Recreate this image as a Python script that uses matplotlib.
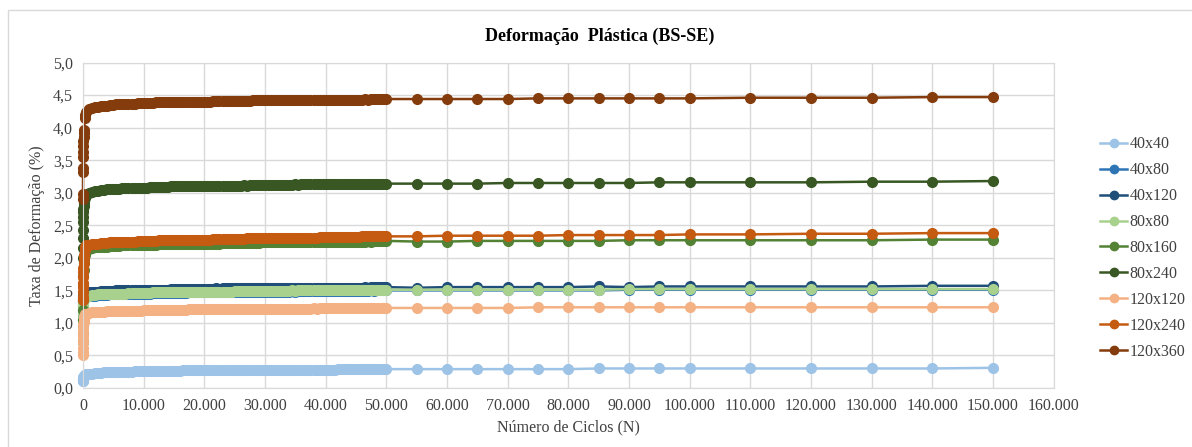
import matplotlib.pyplot as plt
import matplotlib.patches as mpatches
from matplotlib.ticker import FuncFormatter, MultipleLocator

# ciclos (N)
ciclos = [1, 2, 5, 10, 20, 30, 50, 75, 100, 150, 200, 300, 400,
          500, 1000, 1500, 2000, 2500, 3000, 3500, 4000, 4500, 5000,
          5500, 6000, 6500, 7000, 7500, 8000, 8500, 9000, 9500, 10000,
          10500, 11000, 11500, 12000, 12500, 13000, 13500, 14000, 14500, 15000,
          15500, 16000, 16500, 17000, 17500, 18000, 18500, 19000, 19500, 20000,
          20500, 21000, 21500, 22000, 22500, 23000, 23500, 24000, 24500, 25000,
          25500, 26000, 26500, 27000, 27500, 28000, 28500, 29000, 29500, 30000,
          30500, 31000, 31500, 32000, 32500, 33000, 33500, 34000, 34500, 35000,
          35500, 36000, 36500, 37000, 37500, 38000, 38500, 39000, 39500, 40000,
          40500, 41000, 41500, 42000, 42500, 43000, 43500, 44000, 44500, 45000,
          45500, 46000, 46500, 47000, 47500, 48000, 48500, 49000, 49500, 50000,
          55000, 60000, 65000, 70000, 75000, 80000, 85000, 90000, 95000, 100000,
          110000, 120000, 130000, 140000, 150000]

# taxa de deformacao (%) por ensaio
d_40x40 = [0.10, 0.11, 0.12, 0.13, 0.14, 0.15, 0.16, 0.17, 0.18, 0.19, 0.19, 0.20, 0.20,
           0.21, 0.22, 0.22, 0.23, 0.23, 0.23, 0.24, 0.24, 0.24, 0.24,
           0.25, 0.25, 0.25, 0.25, 0.25, 0.25, 0.26, 0.26, 0.26, 0.26,
           0.26, 0.26, 0.26, 0.26, 0.26, 0.26, 0.26, 0.26, 0.26, 0.26,
           0.26, 0.26, 0.27, 0.27, 0.27, 0.27, 0.27, 0.27, 0.27, 0.27,
           0.27, 0.27, 0.27, 0.27, 0.27, 0.27, 0.27, 0.27, 0.27, 0.27,
           0.27, 0.27, 0.27, 0.27, 0.27, 0.28, 0.28, 0.28, 0.28, 0.28,
           0.28, 0.28, 0.28, 0.28, 0.28, 0.28, 0.28, 0.28, 0.28, 0.28,
           0.28, 0.28, 0.28, 0.28, 0.28, 0.28, 0.28, 0.28, 0.28, 0.28,
           0.28, 0.28, 0.28, 0.29, 0.29, 0.29, 0.29, 0.29, 0.29, 0.29,
           0.29, 0.29, 0.29, 0.29, 0.29, 0.29, 0.29, 0.29, 0.29, 0.29,
           0.29, 0.29, 0.29, 0.29, 0.29, 0.29, 0.30, 0.30, 0.30, 0.30,
           0.30, 0.30, 0.30, 0.30, 0.31]
d_40x80 = [0.95, 1.04, 1.12, 1.19, 1.25, 1.29, 1.32, 1.35, 1.37, 1.38, 1.39, 1.40, 1.40,
           1.41, 1.41, 1.42, 1.42, 1.43, 1.43, 1.43, 1.43, 1.44, 1.44,
           1.44, 1.44, 1.44, 1.44, 1.45, 1.45, 1.45, 1.45, 1.45, 1.45,
           1.45, 1.45, 1.46, 1.46, 1.46, 1.46, 1.46, 1.46, 1.46, 1.46,
           1.46, 1.46, 1.46, 1.46, 1.47, 1.47, 1.47, 1.47, 1.47, 1.47,
           1.47, 1.47, 1.47, 1.47, 1.47, 1.47, 1.47, 1.47, 1.47, 1.48,
           1.48, 1.48, 1.48, 1.48, 1.48, 1.48, 1.48, 1.48, 1.48, 1.48,
           1.48, 1.48, 1.48, 1.48, 1.48, 1.48, 1.48, 1.48, 1.49, 1.48,
           1.49, 1.49, 1.49, 1.49, 1.49, 1.49, 1.49, 1.49, 1.49, 1.49,
           1.49, 1.49, 1.49, 1.49, 1.49, 1.49, 1.49, 1.49, 1.49, 1.49,
           1.49, 1.49, 1.49, 1.49, 1.50, 1.49, 1.50, 1.50, 1.50, 1.50,
           1.50, 1.50, 1.50, 1.50, 1.50, 1.50, 1.50, 1.51, 1.51, 1.51,
           1.51, 1.51, 1.51, 1.51, 1.51]
d_40x120 = [1.20, 1.26, 1.30, 1.34, 1.37, 1.39, 1.41, 1.42, 1.43, 1.44, 1.45, 1.46, 1.46,
            1.47, 1.47, 1.48, 1.48, 1.48, 1.49, 1.49, 1.49, 1.49, 1.49,
            1.50, 1.50, 1.50, 1.50, 1.50, 1.50, 1.50, 1.51, 1.51, 1.51,
            1.51, 1.51, 1.51, 1.51, 1.51, 1.51, 1.51, 1.51, 1.52, 1.52,
            1.52, 1.52, 1.52, 1.52, 1.52, 1.52, 1.52, 1.52, 1.52, 1.52,
            1.52, 1.52, 1.52, 1.53, 1.52, 1.53, 1.53, 1.53, 1.53, 1.53,
            1.53, 1.53, 1.53, 1.53, 1.53, 1.53, 1.53, 1.53, 1.53, 1.53,
            1.53, 1.53, 1.53, 1.53, 1.54, 1.53, 1.54, 1.54, 1.54, 1.54,
            1.54, 1.54, 1.54, 1.54, 1.54, 1.54, 1.54, 1.54, 1.54, 1.54,
            1.54, 1.54, 1.54, 1.54, 1.54, 1.54, 1.54, 1.54, 1.54, 1.54,
            1.54, 1.54, 1.55, 1.54, 1.55, 1.55, 1.55, 1.55, 1.55, 1.55,
            1.54, 1.55, 1.55, 1.55, 1.55, 1.55, 1.56, 1.55, 1.56, 1.56,
            1.56, 1.56, 1.56, 1.57, 1.57]
d_80x80 = [1.00, 1.08, 1.15, 1.22, 1.27, 1.31, 1.34, 1.36, 1.38, 1.39, 1.40, 1.41, 1.41,
           1.42, 1.42, 1.43, 1.43, 1.44, 1.44, 1.44, 1.44, 1.45, 1.45,
           1.45, 1.45, 1.45, 1.45, 1.46, 1.46, 1.46, 1.46, 1.46, 1.46,
           1.46, 1.46, 1.47, 1.47, 1.47, 1.47, 1.47, 1.47, 1.47, 1.47,
           1.47, 1.47, 1.47, 1.47, 1.48, 1.48, 1.48, 1.48, 1.48, 1.48,
           1.48, 1.48, 1.48, 1.48, 1.48, 1.48, 1.48, 1.48, 1.48, 1.49,
           1.49, 1.49, 1.49, 1.49, 1.49, 1.49, 1.49, 1.49, 1.49, 1.49,
           1.49, 1.49, 1.49, 1.49, 1.49, 1.49, 1.49, 1.49, 1.50, 1.49,
           1.50, 1.50, 1.50, 1.50, 1.50, 1.50, 1.50, 1.50, 1.50, 1.50,
           1.50, 1.50, 1.50, 1.50, 1.50, 1.50, 1.50, 1.50, 1.50, 1.50,
           1.50, 1.50, 1.50, 1.50, 1.51, 1.50, 1.51, 1.51, 1.51, 1.51,
           1.51, 1.51, 1.51, 1.51, 1.51, 1.51, 1.51, 1.52, 1.52, 1.52,
           1.52, 1.52, 1.52, 1.52, 1.52]
d_80x160 = [0.70, 0.85, 1.05, 1.20, 1.35, 1.48, 1.60, 1.72, 1.82, 1.92, 1.98, 2.05, 2.10,
            2.12, 2.14, 2.15, 2.16, 2.16, 2.17, 2.17, 2.17, 2.18, 2.18,
            2.18, 2.18, 2.19, 2.19, 2.19, 2.19, 2.19, 2.20, 2.20, 2.20,
            2.20, 2.20, 2.20, 2.20, 2.21, 2.21, 2.21, 2.21, 2.21, 2.21,
            2.21, 2.21, 2.21, 2.22, 2.22, 2.22, 2.22, 2.22, 2.22, 2.22,
            2.22, 2.22, 2.22, 2.22, 2.22, 2.23, 2.23, 2.23, 2.23, 2.23,
            2.23, 2.23, 2.23, 2.23, 2.23, 2.23, 2.23, 2.23, 2.24, 2.24,
            2.24, 2.24, 2.24, 2.24, 2.24, 2.24, 2.24, 2.24, 2.24, 2.24,
            2.24, 2.24, 2.24, 2.25, 2.24, 2.25, 2.25, 2.25, 2.25, 2.25,
            2.25, 2.25, 2.25, 2.25, 2.25, 2.25, 2.25, 2.25, 2.25, 2.25,
            2.25, 2.25, 2.25, 2.26, 2.25, 2.26, 2.26, 2.26, 2.26, 2.26,
            2.25, 2.25, 2.26, 2.26, 2.26, 2.26, 2.26, 2.27, 2.27, 2.27,
            2.27, 2.27, 2.27, 2.28, 2.28]
d_80x240 = [2.00, 2.15, 2.30, 2.42, 2.55, 2.62, 2.70, 2.75, 2.80, 2.85, 2.88, 2.92, 2.95,
            2.97, 2.99, 3.01, 3.02, 3.03, 3.04, 3.04, 3.05, 3.05, 3.06,
            3.06, 3.06, 3.07, 3.07, 3.07, 3.07, 3.08, 3.08, 3.08, 3.08,
            3.08, 3.09, 3.09, 3.09, 3.09, 3.09, 3.09, 3.09, 3.10, 3.10,
            3.10, 3.10, 3.10, 3.10, 3.10, 3.10, 3.10, 3.10, 3.10, 3.11,
            3.11, 3.11, 3.11, 3.11, 3.11, 3.11, 3.11, 3.11, 3.11, 3.11,
            3.11, 3.11, 3.12, 3.11, 3.12, 3.12, 3.12, 3.12, 3.12, 3.12,
            3.12, 3.12, 3.12, 3.12, 3.12, 3.12, 3.12, 3.12, 3.12, 3.13,
            3.12, 3.13, 3.13, 3.13, 3.13, 3.13, 3.13, 3.13, 3.13, 3.13,
            3.13, 3.13, 3.13, 3.13, 3.13, 3.13, 3.14, 3.13, 3.14, 3.14,
            3.14, 3.14, 3.14, 3.14, 3.14, 3.14, 3.14, 3.14, 3.14, 3.14,
            3.14, 3.14, 3.14, 3.15, 3.15, 3.15, 3.15, 3.15, 3.16, 3.16,
            3.16, 3.16, 3.17, 3.17, 3.18]
d_120x120 = [0.50, 0.55, 0.62, 0.70, 0.78, 0.85, 0.92, 0.98, 1.02, 1.06, 1.09, 1.11, 1.13,
             1.14, 1.15, 1.16, 1.16, 1.17, 1.17, 1.17, 1.18, 1.18, 1.18,
             1.18, 1.18, 1.19, 1.19, 1.19, 1.19, 1.19, 1.19, 1.19, 1.20,
             1.20, 1.20, 1.20, 1.20, 1.20, 1.20, 1.20, 1.20, 1.20, 1.20,
             1.20, 1.20, 1.20, 1.20, 1.21, 1.21, 1.21, 1.21, 1.21, 1.21,
             1.21, 1.21, 1.21, 1.21, 1.21, 1.21, 1.21, 1.21, 1.21, 1.21,
             1.21, 1.21, 1.22, 1.22, 1.22, 1.22, 1.22, 1.22, 1.22, 1.22,
             1.22, 1.22, 1.22, 1.22, 1.22, 1.22, 1.22, 1.22, 1.22, 1.22,
             1.22, 1.22, 1.22, 1.22, 1.22, 1.23, 1.22, 1.23, 1.23, 1.23,
             1.23, 1.23, 1.23, 1.23, 1.23, 1.23, 1.23, 1.23, 1.23, 1.23,
             1.23, 1.23, 1.23, 1.23, 1.23, 1.23, 1.23, 1.23, 1.23, 1.23,
             1.23, 1.23, 1.23, 1.23, 1.24, 1.24, 1.24, 1.24, 1.24, 1.24,
             1.24, 1.24, 1.24, 1.24, 1.24]
d_120x240 = [1.35, 1.40, 1.48, 1.55, 1.62, 1.70, 1.78, 1.85, 1.92, 2.00, 2.05, 2.12, 2.16,
             2.19, 2.20, 2.21, 2.22, 2.22, 2.23, 2.23, 2.23, 2.24, 2.24,
             2.24, 2.24, 2.25, 2.25, 2.25, 2.25, 2.25, 2.26, 2.26, 2.26,
             2.26, 2.26, 2.26, 2.26, 2.27, 2.27, 2.27, 2.27, 2.27, 2.27,
             2.27, 2.27, 2.28, 2.28, 2.28, 2.28, 2.28, 2.28, 2.28, 2.28,
             2.28, 2.28, 2.29, 2.29, 2.29, 2.29, 2.29, 2.29, 2.29, 2.29,
             2.29, 2.29, 2.29, 2.30, 2.30, 2.30, 2.30, 2.30, 2.30, 2.30,
             2.30, 2.30, 2.30, 2.30, 2.30, 2.31, 2.31, 2.31, 2.31, 2.31,
             2.31, 2.31, 2.31, 2.31, 2.31, 2.31, 2.31, 2.32, 2.32, 2.32,
             2.32, 2.32, 2.32, 2.32, 2.32, 2.32, 2.32, 2.32, 2.32, 2.32,
             2.32, 2.33, 2.33, 2.33, 2.33, 2.33, 2.33, 2.33, 2.33, 2.33,
             2.33, 2.34, 2.34, 2.34, 2.34, 2.35, 2.35, 2.35, 2.35, 2.36,
             2.36, 2.37, 2.37, 2.38, 2.38]
d_120x360 = [2.90, 2.98, 3.32, 3.38, 3.55, 3.62, 3.72, 3.80, 3.86, 3.92, 3.96, 4.15, 4.20,
             4.24, 4.28, 4.30, 4.31, 4.32, 4.33, 4.34, 4.34, 4.35, 4.35,
             4.36, 4.36, 4.36, 4.37, 4.37, 4.37, 4.37, 4.38, 4.38, 4.38,
             4.38, 4.38, 4.38, 4.39, 4.39, 4.39, 4.39, 4.39, 4.39, 4.39,
             4.39, 4.40, 4.40, 4.40, 4.40, 4.40, 4.40, 4.40, 4.40, 4.40,
             4.40, 4.40, 4.41, 4.41, 4.41, 4.41, 4.41, 4.41, 4.41, 4.41,
             4.41, 4.41, 4.41, 4.41, 4.41, 4.42, 4.42, 4.42, 4.42, 4.42,
             4.42, 4.42, 4.42, 4.42, 4.42, 4.42, 4.42, 4.42, 4.42, 4.42,
             4.42, 4.42, 4.42, 4.43, 4.43, 4.43, 4.43, 4.43, 4.43, 4.43,
             4.43, 4.43, 4.43, 4.43, 4.43, 4.43, 4.43, 4.43, 4.43, 4.43,
             4.43, 4.43, 4.44, 4.43, 4.44, 4.44, 4.44, 4.44, 4.44, 4.44,
             4.44, 4.44, 4.44, 4.44, 4.45, 4.45, 4.45, 4.45, 4.45, 4.45,
             4.46, 4.46, 4.46, 4.47, 4.47]

rotulos = ['40x40', '40x80', '40x120', '80x80', '80x160', '80x240',
           '120x120', '120x240', '120x360']
series = [d_40x40, d_40x80, d_40x120, d_80x80, d_80x160, d_80x240,
          d_120x120, d_120x240, d_120x360]
cores = ['#9DC3E6', '#2E75B6', '#1F4E79', '#A9D18E', '#548235', '#385723',
         '#F4B183', '#C55A11', '#843C0C']

plt.rcParams['font.family'] = ['Liberation Serif', 'DejaVu Serif']

fig = plt.figure(figsize=(11.92, 4.47), dpi=100)
ax = fig.add_axes([0.0696, 0.132, 0.8144, 0.728])

for y, cor, rot in zip(series, cores, rotulos):
    ax.plot(ciclos, y, '-o', color=cor, lw=1.8, ms=7, label=rot, clip_on=False)

ax.set_xlim(0, 160000)
ax.set_ylim(0, 5)
ax.xaxis.set_major_locator(MultipleLocator(10000))
ax.yaxis.set_major_locator(MultipleLocator(0.5))
ax.xaxis.set_major_formatter(FuncFormatter(lambda v, p: f"{int(v):,}".replace(',', '.')))
ax.yaxis.set_major_formatter(FuncFormatter(lambda v, p: f"{v:.1f}".replace('.', ',')))
ax.tick_params(length=0, labelsize=11.5, colors='#404040', pad=7)
ax.grid(True, color='#D9D9D9', lw=1)
ax.set_axisbelow(True)
for s in ax.spines.values():
    s.set_color('#D9D9D9')

ax.set_xlabel('Número de Ciclos (N)', fontsize=11.5, color='#404040', labelpad=4)
ax.set_ylabel('Taxa de Deformação (%)', fontsize=11.5, color='#404040', labelpad=6)
fig.text(0.503, 0.918, 'Deformação  Plástica (BS-SE)', ha='center', va='center',
         fontsize=13, fontweight='bold', color='#000000')

leg = fig.legend(loc='center left', bbox_to_anchor=(0.923, 0.445), frameon=False,
                 fontsize=11.5, labelspacing=0.62, handlelength=1.7, handletextpad=0.15,
                 borderpad=0.0, borderaxespad=0.0, labelcolor='#404040')
for h in leg.legend_handles:
    h.set_markersize(6)

# borda externa
fig.patches.append(mpatches.Rectangle((8 / 1192, -0.1), 1.2, 1.1 - 10 / 447,
                                      transform=fig.transFigure, fill=False,
                                      edgecolor='#D9D9D9', lw=1))

fig.savefig('out.png', dpi=100)
